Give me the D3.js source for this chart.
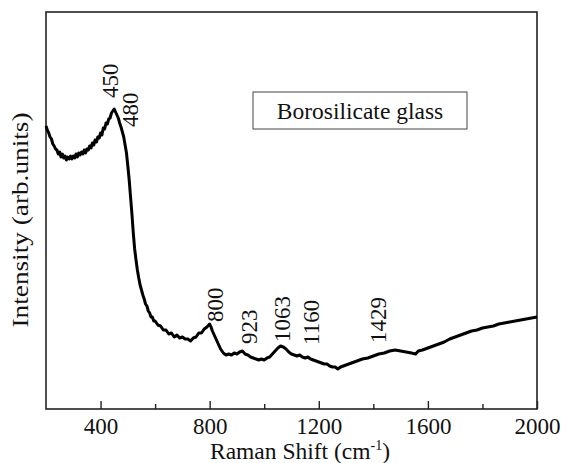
<!DOCTYPE html>
<html><head><meta charset="utf-8">
<script src="https://cdn.jsdelivr.net/npm/d3@7"></script>
<style>body{margin:0;background:#fff}svg{display:block}</style>
</head><body><div id="chart"></div>
<script>
const wavenumber = [200,205,210,215,220,225,230,235,240,245,250,255,260,265,270,275,280,285,290,295,300,305,310,315,320,325,330,335,340,345,350,355,360,365,370,375,380,385,390,395,400,405,410,415,420,425,430,435,440,445,450,455,460,465,470,475,480,485,490,495,500,505,510,515,520,525,530,535,540,545,550,555,560,565,570,575,580,585,590,595,600,610,620,630,640,650,660,670,680,690,700,710,720,730,740,750,760,770,780,790,800,805,810,820,830,840,850,860,870,880,890,900,910,920,930,940,950,960,970,980,990,1000,1010,1020,1030,1040,1050,1060,1070,1080,1090,1100,1110,1120,1130,1140,1150,1160,1170,1180,1190,1200,1210,1220,1230,1240,1250,1260,1270,1280,1290,1300,1320,1340,1360,1380,1400,1420,1440,1460,1480,1500,1520,1540,1555,1565,1580,1600,1620,1640,1660,1680,1700,1720,1740,1760,1780,1800,1820,1840,1860,1880,1900,1920,1940,1960,1980,2000];
const intensity = [283,279,276,272,270,265,263,260,259,255,257,252,255,251,253,249,252,250,253,250,253,251,255,252,256,254,257,255,259,256,260,259,263,261,266,264,269,267,272,271,276,274,281,280,286,285,290,291,296,298,300,297,294,291,286,282,277,272,264,256,243,229,212,195,176,160,149,139,131,124,119,114,110,105,103,98,96,92,92,88,88,84,83,79,79,75,76,72,74,71,72,70,70,68,71,72,76,76,80,82,85,82,78,72,66,60,56,54,55,54,56,55,57,58,55,54,52,51,50,49,50,49,51,52,55,58,61,63,62,60,57,55,54,53,54,52,51,52,50,49,48,47,46,45,45,43,42,42,40,42,43,44,46,48,50,51,53,55,56,58,59,58,57,56,55,58,59,61,63,65,67,70,72,74,76,78,79,81,82,83,85,86,87,88,89,90,91,92];
const xTicks = [400,800,1200,1600,2000];
const xMinorTicks = [600,1000,1400,1800];
const peakLabels = ["450","480","800","923","1063","1160","1429"];
const peakPositions = [450,480,800,923,1063,1160,1429];

const W = 561, H = 463;
const m = {left:46, right:537, top:12, bottom:409};
const FONT = "Liberation Serif";
const svg = d3.select("#chart").append("svg").attr("width",W).attr("height",H);
const x = d3.scaleLinear().domain([200,2000]).range([m.left,m.right]);
const y = d3.scaleLinear().domain([0,397]).range([m.bottom,m.top]);

svg.append("rect").attr("x",m.left).attr("y",m.top).attr("width",m.right-m.left).attr("height",m.bottom-m.top)
  .attr("fill","none").attr("stroke","#222").attr("stroke-width",1.6);

const ax = svg.append("g").attr("transform",`translate(0,${m.bottom})`)
  .call(d3.axisBottom(x).tickValues(xTicks).tickSizeInner(-8).tickSizeOuter(0).tickPadding(9).tickFormat(d3.format("d")));
ax.attr("font-family",null).attr("font-size",null);
ax.select(".domain").remove();
ax.selectAll("line").attr("stroke","#222").attr("stroke-width",1.4);
ax.selectAll("text").style("font-family",FONT).style("font-size","23px").attr("fill","#111");
const axm = svg.append("g").attr("transform",`translate(0,${m.bottom})`)
  .call(d3.axisBottom(x).tickValues(xMinorTicks).tickSizeInner(-5).tickSizeOuter(0).tickFormat(""));
axm.select(".domain").remove();
axm.selectAll("line").attr("stroke","#222").attr("stroke-width",1.4);

const pts = wavenumber.map((w,i)=>[w,intensity[i]]);
svg.append("path").datum(pts)
  .attr("d", d3.line().x(d=>x(d[0])).y(d=>y(d[1])))
  .attr("fill","none").attr("stroke","#000").attr("stroke-width",3).attr("stroke-linejoin","round");

const labelDx = [4,16,13,14,9,11,5];
const labelY = [98,127,322,344,342,345,343];
peakLabels.forEach((t,i)=>{
  svg.append("text").attr("transform",`translate(${x(peakPositions[i])+labelDx[i]},${labelY[i]}) rotate(-90)`)
    .style("font-family",FONT).style("font-size","23px").attr("fill","#111").text(t);
});

svg.append("rect").attr("x",253).attr("y",92).attr("width",214).attr("height",37)
  .attr("fill","#fff").attr("stroke","#444").attr("stroke-width",1);
svg.append("text").attr("x",360).attr("y",119).attr("text-anchor","middle").style("font-family",FONT).style("font-size","23.5px").attr("fill","#111").text("Borosilicate glass");

const xt = svg.append("text").attr("x",300).attr("y",459).attr("text-anchor","middle").style("font-family",FONT).style("font-size","23.5px").attr("fill","#111");
xt.append("tspan").text("Raman Shift (cm");
xt.append("tspan").style("font-size","14px").attr("dy",-9).text("-1");
xt.append("tspan").attr("dy",9).text(")");
svg.append("text").attr("transform","translate(28,220) rotate(-90)").attr("text-anchor","middle")
  .style("font-family",FONT).style("font-size","24px").attr("fill","#111").attr("textLength",215).attr("lengthAdjust","spacingAndGlyphs").text("Intensity (arb.units)");
</script></body></html>
